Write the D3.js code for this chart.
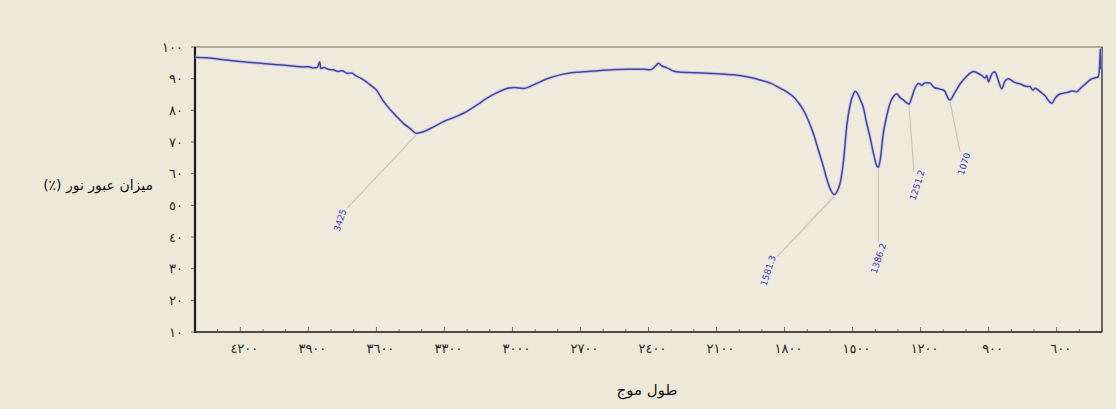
<!DOCTYPE html>
<html lang="ar">
<head>
<meta charset="utf-8">
<title>FTIR</title>
<script src="https://d3js.org/d3.v7.min.js"></script>
<style>
  body { margin: 0; background: #ece9d8; }
  svg { display: block; font-family: "DejaVu Sans", sans-serif; }
  .tick-label { font-size: 13px; fill: #2a2a2a; letter-spacing: 2.5px; }
  .peak-label { font-size: 9px; fill: #3a3ad0; }
</style>
</head>
<body>
<script>
// spectrum: wavenumber (cm-1), transmittance (%)
var wavenumbers = [4400,4350,4300,4250,4200,4150,4100,4050,4000,3960,3920,3900,3880,3860,3850,3845,3830,3810,3790,3770,3750,3730,3710,3690,3670,3650,3630,3600,3570,3540,3510,3480,3452,3425,3400,3350,3305,3250,3200,3150,3114,3070,3025,2990,2952,2920,2893,2850,2790,2720,2643,2560,2496,2420,2393,2365,2357,2340,2320,2290,2276,2200,2143,2080,2026,1960,1908,1860,1820,1790,1761,1740,1717,1695,1673,1650,1629,1610,1595,1581,1570,1555,1540,1526,1510,1497,1489,1478,1465,1453,1438,1423,1408,1394,1386,1378,1365,1350,1335,1318,1305,1290,1275,1262,1251,1240,1225,1208,1195,1180,1159,1140,1114,1095,1077,1070,1050,1026,1000,980,967,950,930,916,908,901,890,880,872,860,842,828,813,790,760,735,718,705,695,673,650,635,622,605,590,571,550,535,512,490,470,453,430,416,410,407,405];
var transmittance = [96.8,96.6,96.2,95.8,95.4,95.1,94.8,94.5,94.2,93.9,93.7,93.8,93.4,93.6,95.3,93.2,93.5,92.9,92.8,92.3,92.5,91.7,91.8,90.9,90.2,89.3,88.2,86.4,83.0,80.3,78.0,75.8,74.3,72.8,73.1,74.7,76.4,78.0,79.7,82.0,83.8,85.5,86.9,87.2,86.9,87.6,88.5,89.9,91.2,92.0,92.4,92.8,93.0,93.0,92.8,94.3,94.9,94.0,93.5,92.4,92.2,91.9,91.7,91.5,91.2,90.5,89.6,88.5,87.0,85.8,84.3,82.5,80.1,76.8,72.7,67.3,62.3,57.5,54.6,53.4,54.2,57.0,64.0,74.8,82.0,85.0,86.0,85.3,83.2,81.0,76.0,71.5,66.5,62.6,62.0,64.5,72.5,78.0,82.2,84.5,85.2,84.0,83.2,82.4,82.0,83.8,87.0,88.5,87.9,88.7,88.6,87.2,86.7,86.2,83.6,83.3,85.5,88.3,90.5,91.8,92.3,91.8,91.0,90.2,91.0,89.0,90.8,92.0,92.1,90.0,86.8,89.2,90.0,89.0,88.3,87.6,87.5,86.4,87.0,85.9,84.5,83.0,82.2,84.0,85.0,85.4,85.7,86.1,85.9,87.3,88.5,89.6,90.3,90.6,95.0,99.4,93.0];

var xTicks = [4200,3900,3600,3300,3000,2700,2400,2100,1800,1500,1200,900,600];
var yTicks = [10,20,30,40,50,60,70,80,90,100];
var peaks = [3425, 1581.3, 1386.2, 1251.2, 1070];
var peakText = ["3425", "1581.3", "1386.2", "1251.2", "1070"];

var xTitle = "طول موج";
var yTitle = "ميزان عبور نور (٪)";

// layout
var W = 1116, H = 409;
var margin = {top: 47, right: 14, bottom: 77, left: 195};
// label offset from peak (pixels)
var labelOffset = [[-76, 85], [-66, 74], [0, 89], [8, 79], [14, 62]];
var leaderGap = [[-69, 73], [-57, 60], [0, 72], [5, 66], [10, 50]];

var arabicDigits = "٠١٢٣٤٥٦٧٨٩";
function toArabic(s) {
    return String(s).replace(/\d/g, function(d) { return arabicDigits[+d]; });
}

var x = d3.scaleLinear().domain([4400, 400]).range([margin.left, W - margin.right]);
var y = d3.scaleLinear().domain([10, 100]).range([H - margin.bottom, margin.top]);

var svg = d3.select("body").append("svg")
    .attr("width", W)
    .attr("height", H);

svg.append("rect").attr("width", W).attr("height", H).attr("fill", "#ece9d8");

// plot area
svg.append("rect")
    .attr("x", x(4400)).attr("y", y(100))
    .attr("width", x(400) - x(4400)).attr("height", y(10) - y(100))
    .attr("fill", "#eeebdc")
    .attr("stroke", "#8a8778").attr("stroke-width", 1.2);

// minor ticks on the bottom edge
var minor = d3.range(4400, 399, -100);
svg.selectAll("line.minor")
    .data(minor)
    .enter().append("line")
    .attr("class", "minor")
    .attr("x1", function(d) { return x(d); })
    .attr("x2", function(d) { return x(d); })
    .attr("y1", y(10))
    .attr("y2", function(d) { return y(10) - (d % 300 === 0 ? 5 : 3); })
    .attr("stroke", "#777");

// y ticks
svg.selectAll("line.ytick")
    .data(yTicks)
    .enter().append("line")
    .attr("class", "ytick")
    .attr("x1", x(4400) - 4).attr("x2", x(4400))
    .attr("y1", function(d) { return y(d); })
    .attr("y2", function(d) { return y(d); })
    .attr("stroke", "#666");

// frame lines
svg.append("line")
    .attr("x1", x(4400)).attr("x2", x(4400))
    .attr("y1", y(100)).attr("y2", y(10) + 1)
    .attr("stroke", "#1e1e1e").attr("stroke-width", 2.2);
svg.append("line")
    .attr("x1", x(4400)).attr("x2", x(400))
    .attr("y1", y(10)).attr("y2", y(10))
    .attr("stroke", "#2a2a2a").attr("stroke-width", 1.6);
svg.append("line")
    .attr("x1", x(400)).attr("x2", x(400))
    .attr("y1", y(100)).attr("y2", y(10))
    .attr("stroke", "#4a4a4a").attr("stroke-width", 1.4);

// tick labels
svg.selectAll("text.xl")
    .data(xTicks)
    .enter().append("text")
    .attr("class", "tick-label")
    .attr("x", function(d) { return x(d) + 4; })
    .attr("y", y(10) + 21)
    .attr("text-anchor", "middle")
    .text(function(d) { return toArabic(d); });

svg.selectAll("text.yl")
    .data(yTicks)
    .enter().append("text")
    .attr("class", "tick-label")
    .attr("x", x(4400) - 12)
    .attr("y", function(d) { return y(d); })
    .attr("dy", "0.35em")
    .attr("text-anchor", "end")
    .text(function(d) { return toArabic(d); });

// axis titles
svg.append("text")
    .attr("x", 647).attr("y", 395)
    .attr("text-anchor", "middle")
    .attr("font-size", 15).attr("fill", "#111")
    .attr("direction", "rtl")
    .text(xTitle);

svg.append("text")
    .attr("x", 153).attr("y", 190)
    .attr("text-anchor", "start")
    .attr("font-size", 14).attr("fill", "#111")
    .attr("direction", "rtl")
    .text(yTitle);

// spectrum
var data = wavenumbers.map(function(w, i) { return [w, transmittance[i]]; });

function valueAt(w) {
    for (var i = 0; i < data.length - 1; i++) {
        if (w <= data[i][0] && w >= data[i + 1][0]) {
            var t = (data[i][0] - w) / (data[i][0] - data[i + 1][0]);
            return data[i][1] + t * (data[i + 1][1] - data[i][1]);
        }
    }
    return data[data.length - 1][1];
}

// leader lines and peak labels
peaks.forEach(function(p, i) {
    var px = x(p), py = y(valueAt(p)) + 2;
    svg.append("line")
        .attr("x1", px).attr("y1", py)
        .attr("x2", px + leaderGap[i][0]).attr("y2", py + leaderGap[i][1])
        .attr("stroke", "#c9c6b6").attr("stroke-width", 1.2);
    svg.append("text")
        .attr("class", "peak-label")
        .attr("text-anchor", "middle")
        .attr("dy", "0.35em")
        .attr("transform", "translate(" + (px + labelOffset[i][0]) + "," + (py + labelOffset[i][1]) + ") rotate(-72)")
        .text(peakText[i]);
});

var line = d3.line()
    .x(function(d) { return x(d[0]); })
    .y(function(d) { return y(d[1]); })
    .curve(d3.curveMonotoneX);

svg.append("path")
    .datum(data)
    .attr("fill", "none")
    .attr("stroke", "#b9b9f0")
    .attr("stroke-width", 3.4)
    .attr("stroke-opacity", 0.6)
    .attr("d", line);

svg.append("path")
    .datum(data)
    .attr("fill", "none")
    .attr("stroke", "#45459e")
    .attr("stroke-width", 1.5)
    .attr("d", line);
</script>
</body>
</html>
